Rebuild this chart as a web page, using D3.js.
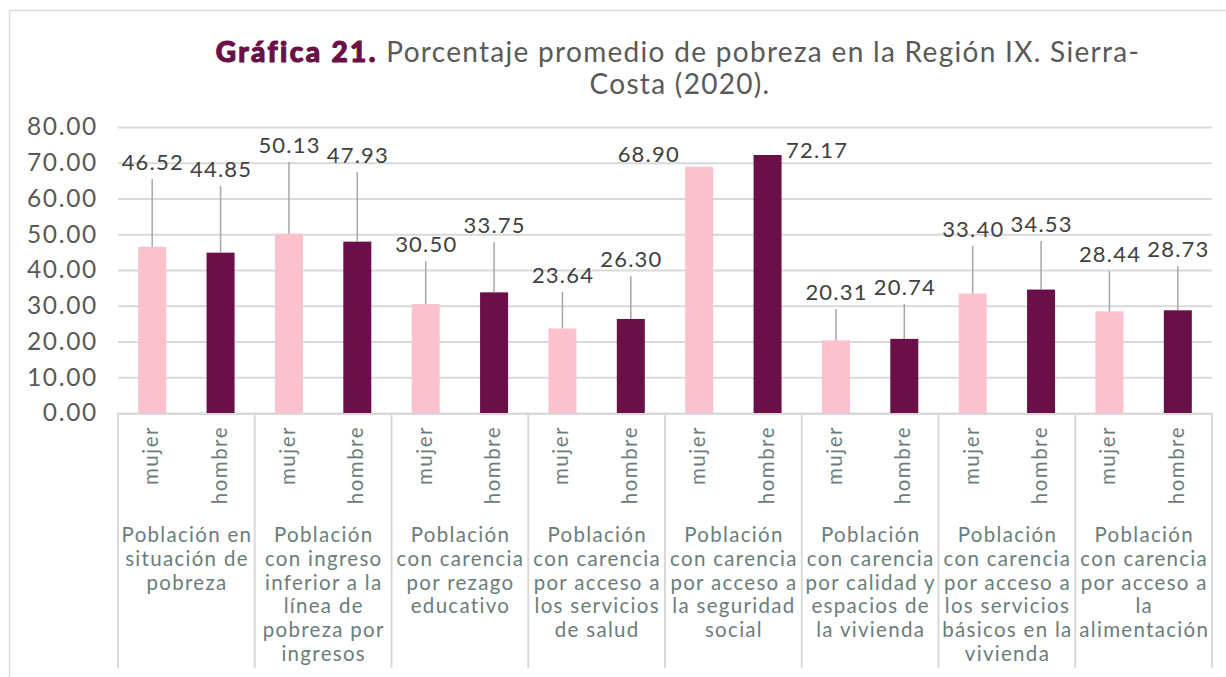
<!DOCTYPE html>
<html>
<head>
<meta charset="utf-8">
<script src="https://cdn.jsdelivr.net/npm/d3@7"></script>
<style>
  body { margin: 0; background: #fff; }
  svg { display: block; font-family: "Lato", "Noto Sans", sans-serif; }
</style>
</head>
<body>
<script>
// data
const groups = [
  "Población en\nsituación de\npobreza",
  "Población\ncon ingreso\ninferior a la\nlínea de\npobreza por\ningresos",
  "Población\ncon carencia\npor rezago\neducativo",
  "Población\ncon carencia\npor acceso a\nlos servicios\nde salud",
  "Población\ncon carencia\npor acceso a\nla seguridad\nsocial",
  "Población\ncon carencia\npor calidad y\nespacios de\nla vivienda",
  "Población\ncon carencia\npor acceso a\nlos servicios\nbásicos en la\nvivienda",
  "Población\ncon carencia\npor acceso a\nla\nalimentación"
];
const sexes = ["mujer", "hombre"];
const mujer  = [46.52, 50.13, 30.50, 23.64, 68.90, 20.31, 33.40, 28.44];
const hombre = [44.85, 47.93, 33.75, 26.30, 72.17, 20.74, 34.53, 28.73];
const yTicks = [0, 10, 20, 30, 40, 50, 60, 70, 80];

// where the data labels were dragged to (label baseline, in axis units), and side shift in px
const labelAtMujer  = [68.0, 72.7, 45.0, 36.4, 70.2, 31.6, 49.2, 42.2];
const labelAtHombre = [66.0, 69.9, 50.3, 40.8, 71.3, 33.0, 50.6, 43.6];
const sideMujer  = [0, 0, 0, 0, -51, 0, 0, 0];
const sideHombre = [0, 0, 0, 0, 49, 0, 0, 0];

const rows = [];
groups.forEach((g, i) => {
  rows.push({ group: g, sex: "mujer", value: mujer[i], at: labelAtMujer[i], dx: sideMujer[i] });
  rows.push({ group: g, sex: "hombre", value: hombre[i], at: labelAtHombre[i], dx: sideHombre[i] });
});

const W = 1226, H = 677;
const plotL = 118, plotR = 1212, plotT = 127, plotB = 413;
const barW = 28;
const colors = { mujer: "#fdc1cd", hombre: "#6a0f48" };

const svg = d3.select("body").append("svg")
  .attr("width", W)
  .attr("height", H);

// outer frame
svg.append("rect")
  .attr("x", 9.5).attr("y", 10.5)
  .attr("width", W + 20).attr("height", H + 20)
  .attr("fill", "none")
  .attr("stroke", "#d9d9d9")
  .attr("stroke-width", 1.5);

// title
const title = svg.append("text")
  .attr("text-anchor", "middle")
  .attr("font-size", 28)
  .attr("fill", "#595959");
const t1 = title.append("tspan").attr("x", 678).attr("y", 62);
t1.append("tspan")
  .attr("font-weight", 900)
  .attr("fill", "#6a0f48")
  .attr("stroke", "#6a0f48")
  .attr("stroke-width", 1.1)
  .attr("letter-spacing", 2.4)
  .text("Gráfica 21.");
t1.append("tspan").attr("letter-spacing", 1.3).text(" Porcentaje promedio de pobreza en la Región IX. Sierra-");
title.append("tspan").attr("x", 680).attr("y", 94).attr("letter-spacing", 1.3).text("Costa (2020).");

var y = d3.scaleLinear().domain([0, 80]).range([plotB, plotT]);
var x0 = d3.scaleBand().domain(groups).range([plotL, plotR]);
var x1 = d3.scaleBand().domain(sexes).range([0, x0.bandwidth()]);
const cx = d => x0(d.group) + x1(d.sex) + x1.bandwidth() / 2;

// y axis with gridlines
const yAxis = svg.append("g")
  .attr("transform", "translate(" + plotL + ",0)")
  .call(d3.axisLeft(y).tickValues(yTicks).tickFormat(d3.format(".2f")).tickSize(-(plotR - plotL)).tickPadding(20));
yAxis.select(".domain").remove();
yAxis.selectAll(".tick line").attr("stroke", "#d9d9d9").attr("stroke-width", 2);
yAxis.selectAll(".tick text")
  .attr("font-family", "Lato, 'Noto Sans', sans-serif")
  .attr("font-size", 24.5)
  .attr("letter-spacing", 1.7)
  .attr("fill", "#595959");

// bars
svg.selectAll(".bar")
  .data(rows)
  .enter().append("rect")
  .classed("bar", true)
  .attr("x", d => cx(d) - barW / 2)
  .attr("width", barW)
  .attr("y", d => y(d.value))
  .attr("height", d => y(0) - y(d.value))
  .attr("fill", d => colors[d.sex]);

// leader lines
svg.selectAll(".leader")
  .data(rows.filter(d => d.dx == 0))
  .enter().append("line")
  .classed("leader", true)
  .attr("x1", d => cx(d)).attr("x2", d => cx(d))
  .attr("y1", d => y(d.at) + 9)
  .attr("y2", d => y(d.value))
  .attr("stroke", "#a6a6a6")
  .attr("stroke-width", 1.5);

// data labels
svg.selectAll(".val")
  .data(rows)
  .enter().append("text")
  .classed("val", true)
  .attr("x", d => cx(d) + d.dx + 0.6)
  .attr("y", d => y(d.at))
  .attr("text-anchor", "middle")
  .attr("font-size", 22)
  .attr("letter-spacing", 1.2)
  .attr("fill", "#404040")
  .text(d => d3.format(".2f")(d.value));

// category axis (two levels)
const axisCol = "#d9d9d9";
const catCol = "#6b7d7a";
svg.append("line")
  .attr("x1", plotL).attr("x2", plotR)
  .attr("y1", plotB + 1).attr("y2", plotB + 1)
  .attr("stroke", axisCol).attr("stroke-width", 2);

svg.selectAll(".sep")
  .data(groups.concat(["end"]))
  .enter().append("line")
  .classed("sep", true)
  .attr("x1", (d, i) => i < groups.length ? x0(d) : plotR)
  .attr("x2", (d, i) => i < groups.length ? x0(d) : plotR)
  .attr("y1", plotB)
  .attr("y2", 668)
  .attr("stroke", axisCol)
  .attr("stroke-width", 2);

svg.selectAll(".sex")
  .data(rows)
  .enter().append("text")
  .classed("sex", true)
  .attr("transform", d => "translate(" + (cx(d) - 2) + ",426) rotate(-90)")
  .attr("text-anchor", "end")
  .attr("dominant-baseline", "central")
  .attr("font-size", 20.5)
  .attr("letter-spacing", 1.5)
  .attr("fill", catCol)
  .text(d => d.sex);

const glab = svg.selectAll(".glab")
  .data(groups)
  .enter().append("text")
  .classed("glab", true)
  .attr("text-anchor", "middle")
  .attr("font-size", 20.5)
  .attr("letter-spacing", 1.3)
  .attr("fill", catCol);
glab.selectAll("tspan")
  .data(d => d.split("\n").map(s => ({ s: s, g: d })))
  .enter().append("tspan")
  .attr("x", d => x0(d.g) + x0.bandwidth() / 2 + 0.6)
  .attr("y", (d, i) => 542 + i * 23.8)
  .text(d => d.s);
</script>
</body>
</html>
